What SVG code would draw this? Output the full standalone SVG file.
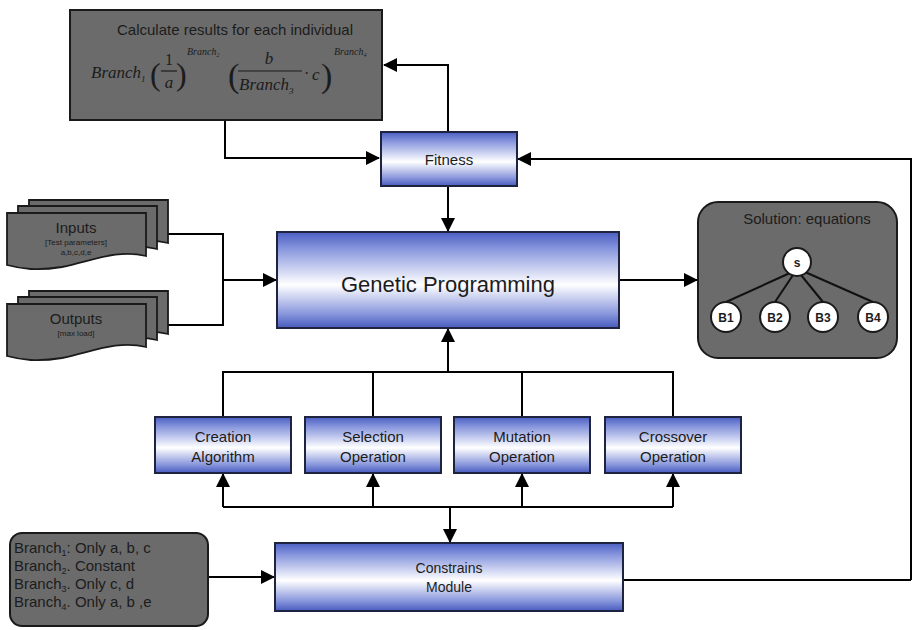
<svg xmlns="http://www.w3.org/2000/svg" width="913" height="630" viewBox="0 0 913 630">
<defs>
<linearGradient id="blue" x1="0" y1="0" x2="0" y2="1">
<stop offset="0" stop-color="#4a5ec2"/>
<stop offset="0.18" stop-color="#8a98de"/>
<stop offset="0.55" stop-color="#ffffff"/>
<stop offset="0.85" stop-color="#8997dc"/>
<stop offset="1" stop-color="#485bbf"/>
</linearGradient>
<marker id="arr" markerWidth="14" markerHeight="14" refX="13" refY="7" orient="auto" markerUnits="userSpaceOnUse">
<path d="M0,0 L14,7 L0,14 Z" fill="#000"/>
</marker>
<path id="doc" d="M0,0 H139 V43 C110,36 85,48 55,54 C30,58 15,56 0,52 Z"/>
</defs>
<style>
.gp{fill:url(#blue);stroke:#1e2440;stroke-width:2}
.gray{fill:#6b6b6b;stroke:#1a1a1a;stroke-width:2}
.doc{fill:#6b6b6b;stroke:#1a1a1a;stroke-width:1.8}
.t{font-family:"Liberation Sans",Arial,sans-serif;fill:#1c1c1c;text-anchor:middle}
.m{font-family:"Liberation Serif","Times New Roman",serif;font-style:italic;fill:#1c1c1c}
.p{font-family:"Liberation Serif","Times New Roman",serif;fill:#1c1c1c}
.c{stroke:#000;stroke-width:2;fill:none}
.node{fill:#fff;stroke:#1a1a1a;stroke-width:2}
.tl{stroke:#111;stroke-width:2}
</style>

<g id="connectors">
<polyline class="c" points="448,132 448,65 384,65" marker-end="url(#arr)"/>
<polyline class="c" points="225,120 225,158 379,158" marker-end="url(#arr)"/>
<polyline class="c" points="911,580 911,159 518,159" marker-end="url(#arr)"/>
<line class="c" x1="623" y1="580" x2="911" y2="580"/>
<line class="c" x1="448" y1="186" x2="448" y2="231" marker-end="url(#arr)"/>
<polyline class="c" points="167,234 223,234 223,325 167,325"/>
<line class="c" x1="223" y1="280" x2="276" y2="280" marker-end="url(#arr)"/>
<line class="c" x1="620" y1="280" x2="697" y2="280" marker-end="url(#arr)"/>
<polyline class="c" points="223,417 223,372 673,372 673,417"/>
<line class="c" x1="373" y1="372" x2="373" y2="417"/>
<line class="c" x1="522" y1="372" x2="522" y2="417"/>
<line class="c" x1="448" y1="372" x2="448" y2="329" marker-end="url(#arr)"/>
<line class="c" x1="223" y1="507" x2="673" y2="507"/>
<line class="c" x1="223" y1="507" x2="223" y2="474" marker-end="url(#arr)"/>
<line class="c" x1="373" y1="507" x2="373" y2="474" marker-end="url(#arr)"/>
<line class="c" x1="522" y1="507" x2="522" y2="474" marker-end="url(#arr)"/>
<line class="c" x1="673" y1="507" x2="673" y2="474" marker-end="url(#arr)"/>
<line class="c" x1="450" y1="507" x2="450" y2="542" marker-end="url(#arr)"/>
<line class="c" x1="208" y1="577" x2="274" y2="577" marker-end="url(#arr)"/>
</g>

<g id="formula">
<rect class="gray" x="70" y="10" width="312" height="110"/>
<text class="t" x="235" y="35" font-size="15">Calculate results for each individual</text>
<text class="m" x="91" y="78" font-size="17">Branch<tspan font-size="9" dy="4">1</tspan></text>
<text class="p" x="150" y="85" font-size="32">(</text>
<text class="p" x="169" y="65" font-size="16" text-anchor="middle">1</text>
<line x1="161" y1="71" x2="177" y2="71" stroke="#1c1c1c" stroke-width="1.2"/>
<text class="m" x="169" y="88" font-size="17" text-anchor="middle">a</text>
<text class="p" x="176" y="85" font-size="32">)</text>
<text class="m" x="187" y="55" font-size="10">Branch<tspan font-size="6" dy="2">2</tspan></text>
<text class="p" x="228" y="87" font-size="34">(</text>
<text class="m" x="269" y="64" font-size="17" text-anchor="middle">b</text>
<line x1="238" y1="71" x2="302" y2="71" stroke="#1c1c1c" stroke-width="1.2"/>
<text class="m" x="239" y="90" font-size="17">Branch<tspan font-size="9" dy="4">3</tspan></text>
<text class="p" x="304" y="79" font-size="16">·</text>
<text class="m" x="312" y="80" font-size="17">c</text>
<text class="p" x="321" y="87" font-size="34">)</text>
<text class="m" x="334" y="55" font-size="10">Branch<tspan font-size="6" dy="2">4</tspan></text>
</g>

<g id="fitness">
<rect class="gp" x="381" y="132" width="136" height="54"/>
<text class="t" x="449" y="165" font-size="15">Fitness</text>
</g>

<g id="inputs">
<use href="#doc" class="doc" x="29" y="200"/>
<use href="#doc" class="doc" x="18" y="206"/>
<use href="#doc" class="doc" x="7" y="213"/>
<text class="t" x="76" y="233" font-size="15">Inputs</text>
<text class="t" x="76" y="245" font-size="8">[Test parameters]</text>
<text class="t" x="76" y="255" font-size="8">a,b,c,d,e</text>
</g>

<g id="outputs">
<use href="#doc" class="doc" x="29" y="291"/>
<use href="#doc" class="doc" x="18" y="297"/>
<use href="#doc" class="doc" x="7" y="304"/>
<text class="t" x="76" y="324" font-size="15">Outputs</text>
<text class="t" x="76" y="336" font-size="8">[max load]</text>
</g>

<g id="genetic-programming">
<rect class="gp" x="277" y="232" width="342" height="96"/>
<text class="t" x="448" y="292" font-size="22">Genetic Programming</text>
</g>

<g id="solution">
<rect class="gray" x="698" y="202" width="199" height="156" rx="20"/>
<text class="t" x="807" y="224" font-size="15">Solution: equations</text>
<line class="tl" x1="790" y1="273" x2="726" y2="302"/>
<line class="tl" x1="793" y1="275" x2="775" y2="302"/>
<line class="tl" x1="801" y1="275" x2="823" y2="302"/>
<line class="tl" x1="805" y1="272" x2="873" y2="302"/>
<circle class="node" cx="797" cy="262" r="14"/>
<circle class="node" cx="726" cy="317" r="15"/>
<circle class="node" cx="775" cy="317" r="15"/>
<circle class="node" cx="823" cy="317" r="15"/>
<circle class="node" cx="873" cy="317" r="15"/>
<text class="t" x="797" y="267" font-size="12" font-weight="bold">s</text>
<text class="t" x="726" y="322" font-size="12" font-weight="bold">B1</text>
<text class="t" x="775" y="322" font-size="12" font-weight="bold">B2</text>
<text class="t" x="823" y="322" font-size="12" font-weight="bold">B3</text>
<text class="t" x="873" y="322" font-size="12" font-weight="bold">B4</text>
</g>

<g id="creation">
<rect class="gp" x="155" y="417" width="136" height="56"/>
<text class="t" x="223" y="442" font-size="15">Creation</text>
<text class="t" x="223" y="462" font-size="15">Algorithm</text>
</g>
<g id="selection">
<rect class="gp" x="305" y="417" width="136" height="56"/>
<text class="t" x="373" y="442" font-size="15">Selection</text>
<text class="t" x="373" y="462" font-size="15">Operation</text>
</g>
<g id="mutation">
<rect class="gp" x="454" y="417" width="136" height="56"/>
<text class="t" x="522" y="442" font-size="15">Mutation</text>
<text class="t" x="522" y="462" font-size="15">Operation</text>
</g>
<g id="crossover">
<rect class="gp" x="605" y="417" width="136" height="56"/>
<text class="t" x="673" y="442" font-size="15">Crossover</text>
<text class="t" x="673" y="462" font-size="15">Operation</text>
</g>

<g id="constraints">
<rect class="gp" x="275" y="543" width="348" height="68"/>
<text class="t" x="449" y="573" font-size="14">Constrains</text>
<text class="t" x="449" y="592" font-size="14">Module</text>
</g>

<g id="branches">
<rect class="gray" x="10" y="533" width="198" height="93" rx="12"/>
<g font-family="Liberation Sans, Arial, sans-serif" font-size="15" fill="#1c1c1c">
<text x="14" y="553">Branch<tspan font-size="9" dy="3">1</tspan><tspan dy="-3">: Only a, b, c</tspan></text>
<text x="14" y="571">Branch<tspan font-size="9" dy="3">2</tspan><tspan dy="-3">. Constant</tspan></text>
<text x="14" y="589">Branch<tspan font-size="9" dy="3">3</tspan><tspan dy="-3">. Only c, d</tspan></text>
<text x="14" y="607">Branch<tspan font-size="9" dy="3">4</tspan><tspan dy="-3">. Only a, b ,e</tspan></text>
</g>
</g>
</svg>
